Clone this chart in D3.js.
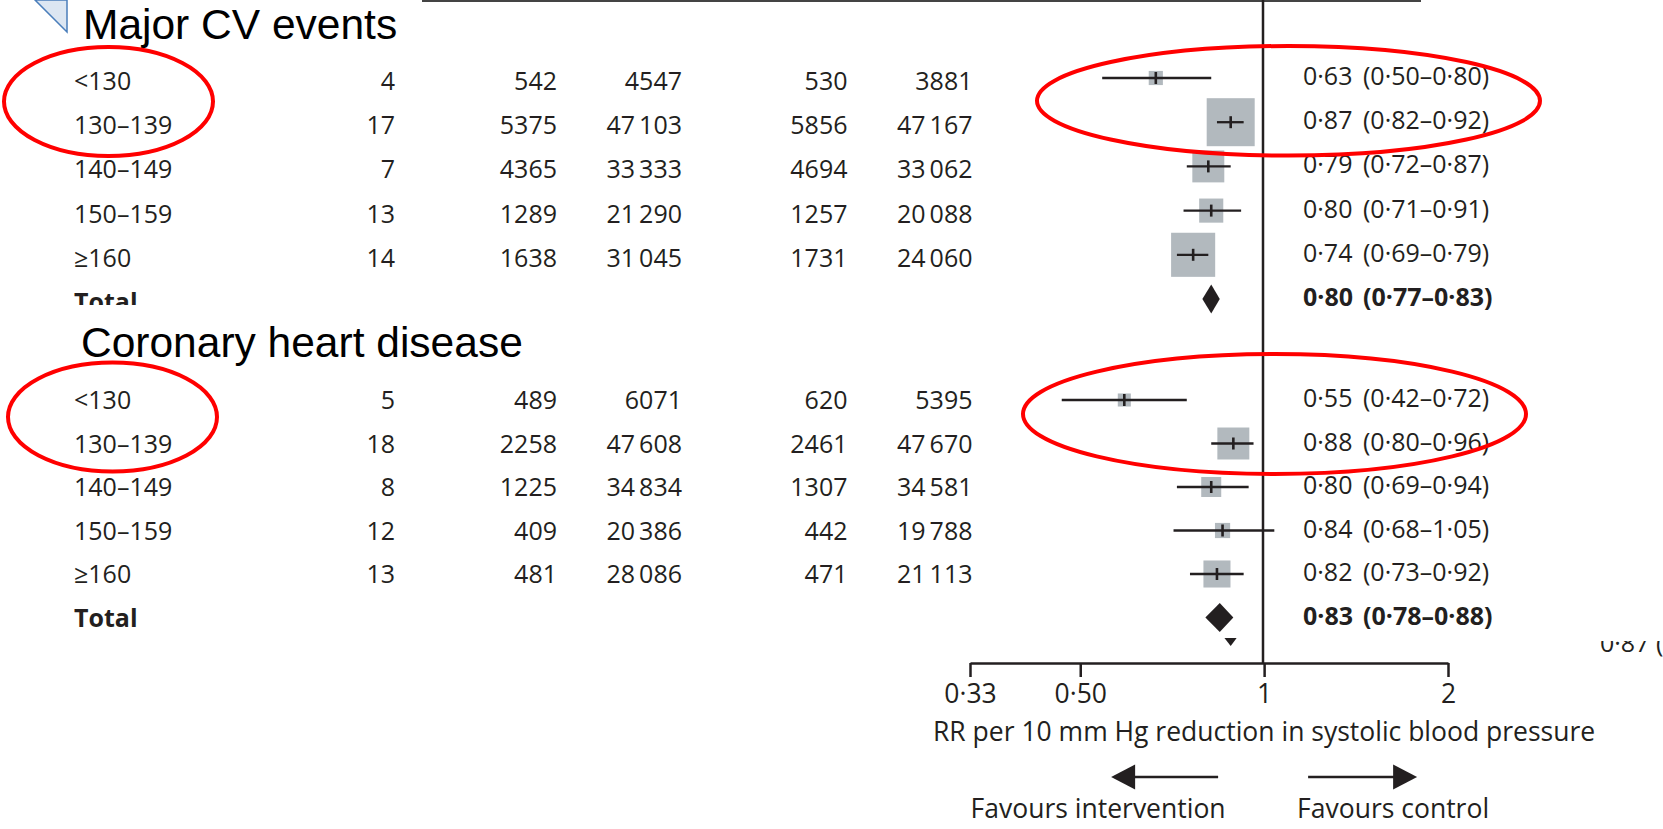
<!DOCTYPE html>
<html><head><meta charset="utf-8">
<script src="https://cdn.jsdelivr.net/npm/d3@7"></script>
<style>
html,body{margin:0;padding:0;background:#fff;}
svg{display:block;}
</style></head><body>
<svg id="chart" width="1663" height="829"></svg>
<script>
// ---------------- data ----------------
const panelTitles = ["Major CV events", "Coronary heart disease"];
const sbpCategories = ["<130", "130–139", "140–149", "150–159", "≥160"];
const totalLabel = "Total";

const mcvTrials    = [4, 17, 7, 13, 14];
const mcvEventsInt = [542, 5375, 4365, 1289, 1638];
const mcvNInt      = [4547, 47103, 33333, 21290, 31045];
const mcvEventsCtl = [530, 5856, 4694, 1257, 1731];
const mcvNCtl      = [3881, 47167, 33062, 20088, 24060];
const mcvRR        = [0.63, 0.87, 0.79, 0.80, 0.74];
const mcvLow       = [0.50, 0.82, 0.72, 0.71, 0.69];
const mcvHigh      = [0.80, 0.92, 0.87, 0.91, 0.79];
const mcvWeight    = [2.0, 23.0, 10.2, 5.8, 19.4];
const mcvTotal     = [0.80, 0.77, 0.83];

const chdTrials    = [5, 18, 8, 12, 13];
const chdEventsInt = [489, 2258, 1225, 409, 481];
const chdNInt      = [6071, 47608, 34834, 20386, 28086];
const chdEventsCtl = [620, 2461, 1307, 442, 471];
const chdNCtl      = [5395, 47670, 34581, 19788, 21113];
const chdRR        = [0.55, 0.88, 0.80, 0.84, 0.82];
const chdLow       = [0.42, 0.80, 0.69, 0.68, 0.73];
const chdHigh      = [0.72, 0.96, 0.94, 1.05, 0.92];
const chdWeight    = [1.7, 10.2, 4.0, 2.3, 7.3];
const chdTotal     = [0.83, 0.78, 0.88];

// cut-off summary row partly visible below the plot
const hiddenTotal  = [0.87, 0.83, 0.91];
const hiddenText   = "0·87 (0·";

const axisTicks      = [0.33, 0.5, 1, 2];
const axisTickLabels = ["0·33", "0·50", "1", "2"];
const axisTitle      = "RR per 10 mm Hg reduction in systolic blood pressure";
const favourLabels   = ["Favours intervention", "Favours control"];

// ---------------- setup ----------------
const svg = d3.select("#chart");
const INK = "#231f20";
const FONT = "'Open Sans', 'Noto Sans', sans-serif";
const FS = 25;
const FS_AXIS = 26.5;

svg.append("rect").attr("width", 1663).attr("height", 829).attr("fill", "#fff");

const xPlot = d3.scaleLog().domain([0.5, 1]).range([1263 - 232 * Math.LN2, 1263]);
const xAxisScale = d3.scaleLog().domain([0.33, 2]).range([970, 1448]);
const sizeScale = d3.scaleSqrt().domain([0, 23]).range([0, 48]);

const colRight = [395, 557, 682, 847.5, 972.5];
const labelX = 74, estX = 1303, ciX = 1363;

const fmtN = v => v >= 10000 ? d3.format(",")(v).replace(/,/g, "\u2009") : String(v);
const fmtRR = v => d3.format(".2f")(v).replace(".", "·");

// top rule & vertical line of no effect
svg.append("line").attr("x1", 422).attr("x2", 1421).attr("y1", 1).attr("y2", 1)
  .attr("stroke", "#444").attr("stroke-width", 2);
svg.append("line").attr("x1", xPlot(1)).attr("x2", xPlot(1)).attr("y1", 0).attr("y2", 663)
  .attr("stroke", INK).attr("stroke-width", 2.5);

function buildRows(t, ei, ni, ec, nc, rr, lo, hi, w) {
  return sbpCategories.map((c, i) => ({
    label: c, cols: [t[i], ei[i], ni[i], ec[i], nc[i]],
    rr: rr[i], lo: lo[i], hi: hi[i], w: w[i]
  }));
}

const panels = [
  { title: panelTitles[0], titleX: 83, titleY: 39, tableDy: 12,
    rows: buildRows(mcvTrials, mcvEventsInt, mcvNInt, mcvEventsCtl, mcvNCtl, mcvRR, mcvLow, mcvHigh, mcvWeight),
    total: mcvTotal, y: d3.scaleLinear().domain([0, 5]).range([78, 299]) },
  { title: panelTitles[1], titleX: 81, titleY: 357, tableDy: 9,
    rows: buildRows(chdTrials, chdEventsInt, chdNInt, chdEventsCtl, chdNCtl, chdRR, chdLow, chdHigh, chdWeight),
    total: chdTotal, y: d3.scaleLinear().domain([0, 5]).range([400, 617.5]) }
];

function diamondPath(est, lo, hi, cy, h) {
  return `M${xPlot(lo)},${cy}L${xPlot(est)},${cy - h}L${xPlot(hi)},${cy}L${xPlot(est)},${cy + h}Z`;
}

function drawPanel(p) {
  const g = svg.append("g");
  p.rows.forEach((r, i) => {
    const cy = p.y(i);
    g.append("text").attr("x", labelX).attr("y", cy + p.tableDy).text(r.label)
      .attr("font-family", FONT).attr("font-size", FS).attr("fill", INK);
    r.cols.forEach((v, j) => {
      g.append("text").attr("x", colRight[j]).attr("y", cy + p.tableDy).attr("text-anchor", "end")
        .text(fmtN(v)).attr("font-family", FONT).attr("font-size", FS).attr("fill", INK);
    });
    const s = sizeScale(r.w);
    g.append("rect").attr("x", xPlot(r.rr) - s / 2).attr("y", cy - s / 2)
      .attr("width", s).attr("height", s).attr("fill", "#b2b9be");
    g.append("line").attr("x1", xPlot(r.lo)).attr("x2", xPlot(r.hi)).attr("y1", cy).attr("y2", cy)
      .attr("stroke", INK).attr("stroke-width", 2.3);
    g.append("line").attr("x1", xPlot(r.rr)).attr("x2", xPlot(r.rr)).attr("y1", cy - 6).attr("y2", cy + 6)
      .attr("stroke", INK).attr("stroke-width", 2.6);
    g.append("text").attr("x", estX).attr("y", cy + 7).text(fmtRR(r.rr))
      .attr("font-family", FONT).attr("font-size", FS).attr("fill", INK);
    g.append("text").attr("x", ciX).attr("y", cy + 7).text(`(${fmtRR(r.lo)}–${fmtRR(r.hi)})`)
      .attr("font-family", FONT).attr("font-size", FS).attr("fill", INK);
  });
  const ty = p.y(5);
  g.append("text").attr("x", labelX).attr("y", ty + p.tableDy).text(totalLabel)
    .attr("font-family", FONT).attr("font-size", FS).attr("font-weight", "bold").attr("fill", INK);
  g.append("path").attr("d", diamondPath(p.total[0], p.total[1], p.total[2], ty, 14.5)).attr("fill", INK);
  g.append("text").attr("x", estX).attr("y", ty + 7).text(fmtRR(p.total[0]))
    .attr("font-family", FONT).attr("font-size", FS).attr("font-weight", "bold").attr("fill", INK);
  g.append("text").attr("x", ciX).attr("y", ty + 7).text(`(${fmtRR(p.total[1])}–${fmtRR(p.total[2])})`)
    .attr("font-family", FONT).attr("font-size", FS).attr("font-weight", "bold").attr("fill", INK);
}

drawPanel(panels[0]);
// white title box covering the bottom of the first "Total" row
svg.append("rect").attr("x", 0).attr("y", 305).attr("width", 600).attr("height", 60).attr("fill", "#fff");
drawPanel(panels[1]);

panels.forEach(p => {
  svg.append("text").attr("x", p.titleX).attr("y", p.titleY).text(p.title)
    .attr("font-family", "'Liberation Sans', Arial, sans-serif").attr("font-size", 42.5).attr("fill", "#000");
});

// callout tip at top-left
svg.append("path").attr("d", "M35,0L67,0L67,32Z").attr("fill", "#dce6f2")
  .attr("stroke", "#4a7ebb").attr("stroke-width", 1.5);

// partly hidden summary row
const defs = svg.append("defs");
defs.append("clipPath").attr("id", "cutDiamond").append("rect")
  .attr("x", 1100).attr("y", 638).attr("width", 300).attr("height", 20);
defs.append("clipPath").attr("id", "cutText").append("rect")
  .attr("x", 1500).attr("y", 641).attr("width", 163).attr("height", 20);
svg.append("path").attr("d", diamondPath(hiddenTotal[0], hiddenTotal[1], hiddenTotal[2], 632, 14))
  .attr("fill", INK).attr("clip-path", "url(#cutDiamond)");
svg.append("text").attr("x", 1600).attr("y", 652).text(hiddenText)
  .attr("font-family", FONT).attr("font-size", FS).attr("fill", INK).attr("clip-path", "url(#cutText)");

// axis
const axis = d3.axisBottom(xAxisScale).tickValues(axisTicks)
  .tickFormat((d, i) => axisTickLabels[i]).tickSizeInner(14).tickSizeOuter(0).tickPadding(7);
const ag = svg.append("g").attr("transform", "translate(0,663)").call(axis);
ag.select(".domain").attr("stroke", INK).attr("stroke-width", 2.5);
ag.selectAll(".tick line").attr("stroke", INK).attr("stroke-width", 2.5);
ag.selectAll(".tick text").attr("font-family", FONT).attr("font-size", FS_AXIS).attr("fill", INK);

const cx1 = xAxisScale(1);
svg.append("text").attr("x", cx1).attr("y", 741).attr("text-anchor", "middle").text(axisTitle)
  .attr("font-family", FONT).attr("font-size", FS_AXIS).attr("fill", INK);

// favour arrows
const ay = 777;
svg.append("line").attr("x1", cx1 - 46).attr("x2", cx1 - 132).attr("y1", ay).attr("y2", ay)
  .attr("stroke", INK).attr("stroke-width", 2.6);
svg.append("path").attr("d", `M${cx1 - 153},${ay}L${cx1 - 129},${ay - 12.5}L${cx1 - 129},${ay + 12.5}Z`).attr("fill", INK);
svg.append("line").attr("x1", cx1 + 44).attr("x2", cx1 + 130).attr("y1", ay).attr("y2", ay)
  .attr("stroke", INK).attr("stroke-width", 2.6);
svg.append("path").attr("d", `M${cx1 + 153},${ay}L${cx1 + 129},${ay - 12.5}L${cx1 + 129},${ay + 12.5}Z`).attr("fill", INK);
svg.append("text").attr("x", cx1 - 166).attr("y", 818).attr("text-anchor", "middle").text(favourLabels[0])
  .attr("font-family", FONT).attr("font-size", FS_AXIS).attr("fill", INK);
svg.append("text").attr("x", cx1 + 129).attr("y", 818).attr("text-anchor", "middle").text(favourLabels[1])
  .attr("font-family", FONT).attr("font-size", FS_AXIS).attr("fill", INK);

// red highlight ellipses
const highlights = [
  [108.5, 101.5, 104.5, 54.5], [1288.5, 100.8, 251.5, 54.8],
  [112.5, 417, 104.5, 54.5], [1274.5, 414, 251.5, 60]
];
svg.selectAll("ellipse.hl").data(highlights).join("ellipse").attr("class", "hl")
  .attr("cx", d => d[0]).attr("cy", d => d[1]).attr("rx", d => d[2]).attr("ry", d => d[3])
  .attr("fill", "none").attr("stroke", "#ff0000").attr("stroke-width", 4);
</script>
</body></html>
